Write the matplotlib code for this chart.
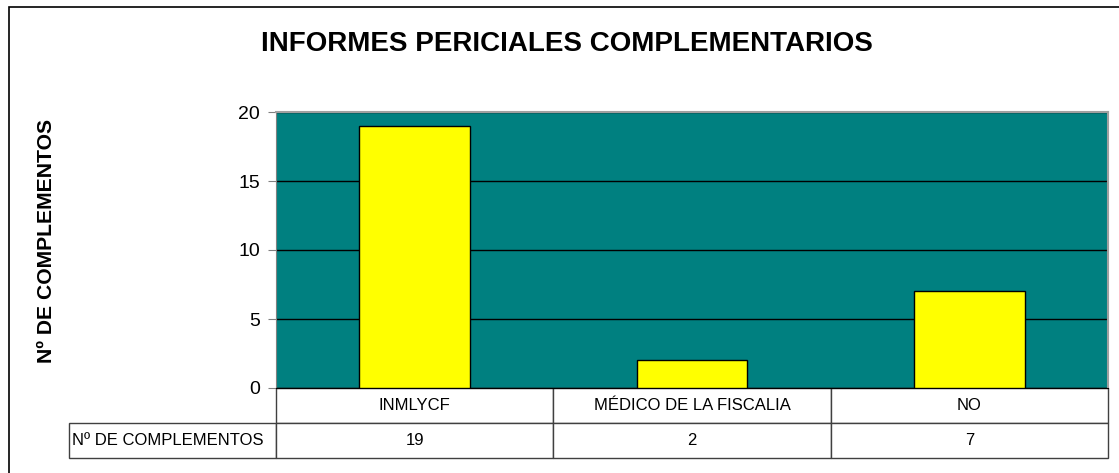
import matplotlib.pyplot as plt
from matplotlib.table import Table
from matplotlib.patches import Rectangle

categorias = ['INMLYCF', 'MÉDICO DE LA FISCALIA', 'NO']
complementos = [19, 2, 7]
serie = 'Nº DE COMPLEMENTOS'
titulo = 'INFORMES PERICIALES COMPLEMENTARIOS'
yticks = [0, 5, 10, 15, 20]

plt.rcParams['font.family'] = ['Liberation Sans', 'DejaVu Sans']

W, H = 1119, 473
fig = plt.figure(figsize=(W / 100, H / 100), dpi=100)

# marco exterior del grafico
fig.add_artist(Rectangle((9 / W, -0.1), 1.2, 1 - 7 / H + 0.1, transform=fig.transFigure,
                         fill=False, edgecolor='black', linewidth=1.2))

# area de trazado (px)
x0, x1, y0, y1 = 276, 1108, 112, 388
ax = fig.add_axes([x0 / W, 1 - y1 / H, (x1 - x0) / W, (y1 - y0) / H])
ax.set_facecolor('#008080')

x = list(range(len(categorias)))
ax.bar(x, complementos, width=0.4, color='#FFFF00', edgecolor='black', linewidth=1, zorder=3)
ax.set_xlim(-0.5, len(categorias) - 0.5)
ax.set_ylim(0, 20)
ax.set_yticks(yticks)
ax.yaxis.grid(True, color='black', linewidth=1, zorder=1)
ax.set_axisbelow(True)
ax.set_xticks([])
ax.tick_params(axis='y', direction='out', length=6, color='#808080', labelsize=14, pad=5.5)

for s in ['top', 'right']:
    ax.spines[s].set_color('#a0a0a0')
    ax.spines[s].set_linewidth(1.5)
ax.spines['left'].set_color('#808080')
ax.spines['bottom'].set_color('black')

ax.set_ylabel(serie, fontsize=15.2, fontweight='bold', labelpad=0)
ax.yaxis.set_label_coords((56 - x0) / (x1 - x0), (y1 - 241) / (y1 - y0))

fig.text(567 / W, 1 - 44 / H, titulo, ha='center', va='center', fontsize=20, fontweight='bold')

# tabla de datos (unidades: fraccion de ejes)
pw = x1 - x0
ph = y1 - y0
fila = 35 / ph
lab_w = (x0 - 69) / pw
col_w = 1 / len(categorias)
tab = Table(ax, bbox=[0, -2 * fila, 1, 2 * fila])
for i, c in enumerate(categorias):
    cell = tab.add_cell(0, i, width=col_w, height=fila, text=c, loc='center')
    cell.set_edgecolor('#404040')
    cell = tab.add_cell(1, i, width=col_w, height=fila, text=str(complementos[i]), loc='center')
    cell.set_edgecolor('#404040')
cell = tab.add_cell(1, -1, width=lab_w, height=fila, text=serie, loc='left')
cell.set_edgecolor('#404040')
cell.PAD = 0.015
tab.auto_set_font_size(False)
tab.set_fontsize(12)
ax.add_table(tab)
tab.set_clip_on(False)

fig.savefig('out.png', dpi=100)
